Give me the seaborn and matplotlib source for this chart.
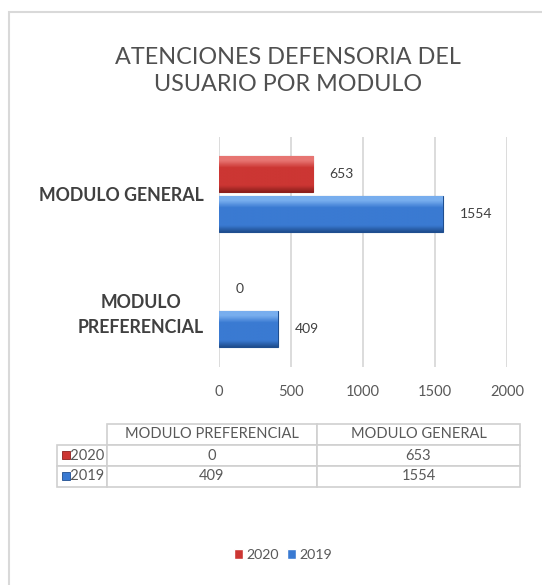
import numpy as np
import matplotlib
matplotlib.use("Agg")
import matplotlib.pyplot as plt
from matplotlib.patches import Rectangle
from matplotlib.colors import to_rgb
import seaborn as sns
import pandas as pd

# data
modulos = ["MODULO GENERAL", "MODULO PREFERENCIAL"]
modulo_labels = ["MODULO GENERAL", "MODULO\nPREFERENCIAL"]
years = ["2020", "2019"]
v2020 = [653, 0]
v2019 = [1554, 409]
x_ticks = [0, 500, 1000, 1500, 2000]

red = "#CC3633"
blue = "#3A7AD2"
edge_red = "#8C1F1D"
edge_blue = "#1F4E8F"
light_red = "#E77572"
light_blue = "#78AEEE"
gray_txt = "#595959"

df = pd.DataFrame({
    "modulo": modulos * 2,
    "anio": [years[0]] * 2 + [years[1]] * 2,
    "valor": v2020 + v2019,
})

sns.set_theme(style="white")
plt.rcParams['font.family'] = ['Lato', 'DejaVu Sans']

W, H = 542, 585
fig = plt.figure(figsize=(W / 100, H / 100), dpi=100)

def fx(px):
    return px / W

def fy(py):
    return 1 - py / H

# outer frame
fig.patches.append(Rectangle((fx(9), fy(700)), 1.2, fy(12) - fy(700),
                             transform=fig.transFigure, fill=False,
                             edgecolor="#D9D9D9", linewidth=1.5))

# title
fig.text(fx(288), fy(71), "ATENCIONES DEFENSORIA DEL\nUSUARIO POR MODULO",
         ha="center", va="center", fontsize=16.8, color="#505050",
         linespacing=1.4)

# bar chart
ax = fig.add_axes([fx(219), fy(366.5), fx(507) - fx(219), fy(136.5) - fy(366.5)])
sns.barplot(data=df, y="modulo", x="valor", hue="anio", order=modulos,
            hue_order=years, palette=[red, blue], orient="h",
            width=0.71, gap=0.12, ax=ax, saturation=1)

def bevel(c_light, c_base, c_dark, n=60):
    stops = [0.0, 0.12, 0.32, 0.82, 1.0]
    cols = [c_light, c_light, c_base, c_base, c_dark]
    t = np.linspace(0, 1, n)
    rgb = np.array([to_rgb(c) for c in cols])
    out = np.stack([np.interp(t, stops, rgb[:, k]) for k in range(3)], axis=-1)
    return out[:, None, :]

styles = [(light_red, red, edge_red), (light_blue, blue, edge_blue)]
for cont, (cl, cb, cd) in zip(ax.containers, styles):
    grad = bevel(cl, cb, cd)
    for bar in cont:
        w = bar.get_width()
        if w == 0:
            bar.set_linewidth(0)
            continue
        bar.set_edgecolor(cd)
        bar.set_linewidth(0.8)
        x0, y0, h = bar.get_x(), bar.get_y(), bar.get_height()
        im = ax.imshow(grad, extent=(x0, x0 + w, y0 + h, y0), aspect="auto",
                       interpolation="bilinear", zorder=bar.get_zorder() + 0.1)
        im.set_clip_path(bar)
    ax.bar_label(cont, padding=12, fontsize=10, color="#404040")

ax.set_xlim(0, 2000)
ax.set_ylim(1.5, -0.5)
ax.set_xticks(x_ticks)
ax.set_xticklabels([str(t) for t in x_ticks], fontsize=10.5, color=gray_txt)
ax.set_yticks(range(len(modulos)))
ax.set_yticklabels(modulo_labels, fontsize=12.8, color="#404040", fontweight="bold")
for lab in ax.get_yticklabels():
    lab.set_multialignment("center")
    lab.set_linespacing(1.6)
ax.tick_params(axis="x", length=0, pad=13)
ax.tick_params(axis="y", length=0, pad=11)
ax.xaxis.grid(True, color="#D9D9D9", linewidth=1.3)
ax.set_axisbelow(True)
for s in ax.spines.values():
    s.set_visible(False)
ax.set_xlabel("")
ax.set_ylabel("")
ax.set_facecolor("none")

handles, labels = ax.get_legend_handles_labels()
ax.get_legend().remove()

# data table
table_cols = modulos[::-1]
t2020 = [v2020[modulos.index(c)] for c in table_cols]
t2019 = [v2019[modulos.index(c)] for c in table_cols]
cell_text = [[""] + table_cols,
             ["   " + years[0]] + [str(v) for v in t2020],
             ["   " + years[1]] + [str(v) for v in t2019]]

tx0, tx1, ty0, ty1 = 57, 520, 424, 487
tax = fig.add_axes([fx(tx0), fy(ty1), fx(tx1) - fx(tx0), fy(ty0) - fy(ty1)])
tax.axis("off")
col_px = [107 - tx0, 317 - 107, tx1 - 317]
tab = tax.table(cellText=cell_text, cellLoc="center", bbox=[0, 0, 1, 1],
                colWidths=[c / sum(col_px) for c in col_px])
tab.auto_set_font_size(False)
for (r, c), cell in tab.get_celld().items():
    cell.set_edgecolor("#D0D0D0")
    cell.set_linewidth(1.2)
    cell.get_text().set_fontsize(10.5)
    cell.get_text().set_color(gray_txt)
    if r == 0 and c == 0:
        cell.visible_edges = ""
    if c == 0:
        cell.get_text().set_ha("left")
        cell.PAD = 0.04

# legend keys in the table row labels
row_mid = [ty0 + 20 + 10.5, ty0 + 41 + 11]
for ym, (cl, cb, cd) in zip(row_mid, styles):
    fig.patches.append(Rectangle((fx(62), fy(ym + 4)), fx(8), 8 / H,
                                 transform=fig.transFigure, facecolor=cb,
                                 edgecolor=cd, linewidth=0.6))

# bottom legend
fig.legend(handles, labels, loc="center", bbox_to_anchor=(fx(283), fy(555)),
           ncol=2, frameon=False, handlelength=0.65, handleheight=0.65,
           handletextpad=0.2, columnspacing=0.6, fontsize=10.2,
           labelcolor=gray_txt)

fig.savefig("out.png", dpi=100, facecolor="white")
